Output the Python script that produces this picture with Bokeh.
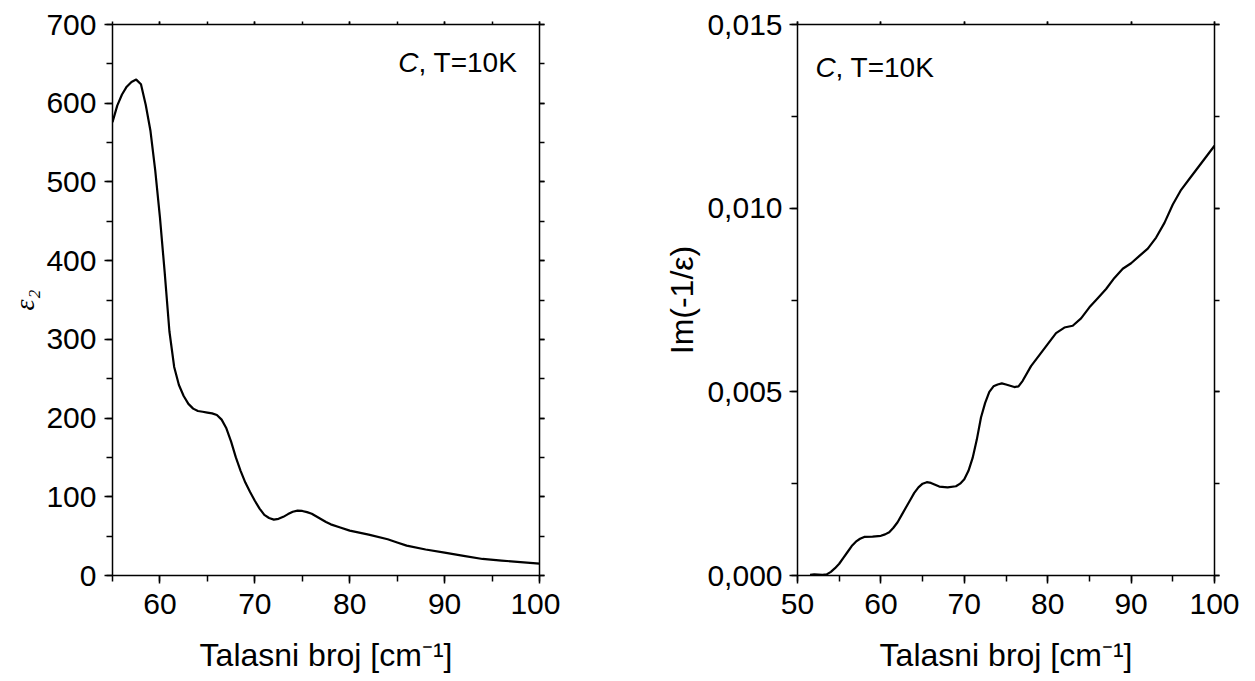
from bokeh.plotting import figure
from bokeh.layouts import row
from bokeh.models import (Range1d, LinearAxis, SingleIntervalTicker, Label,
                          CustomJSTickFormatter)
from bokeh.embed import file_html
from bokeh.resources import INLINE

# --- data: dielectric function, imaginary part (eps2) ---
eps_wavenumber = [55, 55.5, 56, 56.5, 57, 57.5, 58, 58.5, 59, 59.5, 60, 60.5,
                  61, 61.5, 62, 62.5, 63, 63.5, 64, 64.5, 65, 65.5, 66, 66.5,
                  67, 67.5, 68, 68.5, 69, 69.5, 70, 70.5, 71, 71.5, 72, 72.5,
                  73, 73.5, 74, 74.5, 75, 75.5, 76, 76.5, 77, 77.5, 78, 79,
                  80, 82, 84, 85, 86, 88, 90, 92, 94, 96, 98, 100]
eps2 = [576, 597, 611, 621, 627, 630, 624, 598, 565, 515, 455, 385,
        310, 265, 242, 228, 218, 212, 209, 208, 207, 206, 204, 198,
        187, 170, 150, 133, 118, 106, 95, 85, 77, 73, 71, 72,
        74.5, 78, 81, 82.5, 82, 80.5, 78.5, 75, 71.5, 68, 65, 61,
        57, 52, 46, 42, 38, 33, 29, 25, 21, 19, 17, 15]

# --- data: energy loss function Im(-1/eps) ---
loss_wavenumber = [51.5, 52, 53, 53.5, 54, 54.5, 55, 55.5, 56, 56.5, 57, 57.5,
                   58, 59, 60, 60.5, 61, 61.5, 62, 62.5, 63, 63.5, 64, 64.5,
                   65, 65.5, 66, 66.5, 67, 68, 69, 69.5, 70, 70.5, 71, 71.5,
                   72, 72.5, 73, 73.5, 74, 74.5, 75, 76, 76.5, 77, 78, 79, 80,
                   81, 82, 83, 84, 85, 86, 87, 88, 89, 90, 91, 92, 93, 94, 95,
                   96, 97, 98, 99, 100]
loss = [0.00002, 0.00003, 0.00002, 0.00003, 0.0001, 0.0002, 0.00032, 0.00048,
        0.00064, 0.0008, 0.00092, 0.001, 0.00105, 0.00106, 0.00108, 0.00112,
        0.00118, 0.0013, 0.00145, 0.00165, 0.00185, 0.00205, 0.00225,
        0.0024, 0.0025, 0.00254, 0.00252, 0.00247, 0.00242, 0.0024, 0.00243,
        0.0025, 0.00262, 0.00285, 0.0032, 0.0037, 0.0043, 0.0047, 0.0050,
        0.00515, 0.0052, 0.00523, 0.0052, 0.00513, 0.00515, 0.0053, 0.0057,
        0.0060, 0.0063, 0.0066, 0.00675, 0.0068, 0.0070, 0.0073, 0.00755,
        0.0078, 0.0081, 0.00835, 0.0085, 0.0087, 0.0089, 0.0092, 0.0096,
        0.0101, 0.0105, 0.0108, 0.0111, 0.0114, 0.0117]

x_label = "Talasni broj [cm\u207b\u00b9]"
annotation_main = ", T=10K"
annotation_italic = "C"

FONT = "Liberation Sans"
FS = "28px"
TICK_FS = "30px"
LABEL_FS = "32px"
H = 680


def style_axis(ax, interval, minor, major_out, minor_out, labels=True,
               standoff=5, fmt=None):
    ax.ticker = SingleIntervalTicker(interval=interval, num_minor_ticks=minor)
    ax.axis_line_color = "black"
    ax.axis_line_width = 1.5
    ax.major_tick_line_color = "black"
    ax.major_tick_line_width = 1.5
    ax.minor_tick_line_color = "black"
    ax.minor_tick_line_width = 1.5
    ax.major_tick_in = 0
    ax.major_tick_out = major_out
    ax.minor_tick_in = 0
    ax.minor_tick_out = minor_out
    if fmt is not None:
        ax.formatter = fmt
    if labels:
        ax.major_label_text_font = FONT
        ax.major_label_text_font_size = TICK_FS
        ax.major_label_text_color = "black"
        ax.major_label_standoff = standoff
    else:
        ax.major_label_text_font_size = "0px"
        ax.major_label_text_color = None


def set_label(ax, text, font, style, standoff, size=LABEL_FS):
    ax.axis_label = text
    ax.axis_label_text_font = font
    ax.axis_label_text_font_size = size
    ax.axis_label_text_font_style = style
    ax.axis_label_text_color = "black"
    ax.axis_label_standoff = standoff


def make_fig(width, border_left, border_right, xr, yr):
    p = figure(width=width, height=H, output_backend="svg",
               toolbar_location=None, x_range=xr, y_range=yr,
               min_border_left=border_left, min_border_right=border_right,
               min_border_top=24, min_border_bottom=H - 575)
    p.grid.visible = False
    p.outline_line_color = None
    p.background_fill_color = "white"
    p.border_fill_color = "white"
    return p


# ---------------- left panel: eps2 ----------------
p1 = make_fig(560, 112, 21, Range1d(55, 100), Range1d(0, 700))
p1.line(eps_wavenumber, eps2, line_color="black", line_width=2.2,
        line_join="round")

style_axis(p1.xaxis[0], 10, 2, 8, 6, standoff=10)
style_axis(p1.yaxis[0], 100, 2, 8, 6, standoff=8)
set_label(p1.xaxis[0], x_label, FONT, "normal", 20)
set_label(p1.yaxis[0], "\u03b5\u2082", "Liberation Serif", "italic", 3,
          size="28px")

top1 = LinearAxis()
style_axis(top1, 10, 2, 3, 3, labels=False)
p1.add_layout(top1, "above")
right1 = LinearAxis()
style_axis(right1, 100, 2, 5, 5, labels=False)
p1.add_layout(right1, "right")

p1.add_layout(Label(x=87.25, y=652, text=annotation_italic, text_align="right",
                    text_baseline="alphabetic", text_font=FONT,
                    text_font_size=FS, text_font_style="italic",
                    text_color="black"))
p1.add_layout(Label(x=87.25, y=652, text=annotation_main, text_align="left",
                    text_baseline="alphabetic", text_font=FONT,
                    text_font_size=FS, text_color="black"))

# ---------------- right panel: Im(-1/eps) ----------------
p2 = make_fig(695, 237, 41, Range1d(50, 100), Range1d(0, 0.015))
p2.line(loss_wavenumber, loss, line_color="black", line_width=2.2,
        line_join="round")

comma_fmt = CustomJSTickFormatter(code="return tick.toFixed(3).replace('.', ',');")
style_axis(p2.xaxis[0], 10, 2, 8, 6, standoff=10)
style_axis(p2.yaxis[0], 0.005, 2, 8, 6, standoff=7, fmt=comma_fmt)
set_label(p2.xaxis[0], x_label, FONT, "normal", 20)
set_label(p2.yaxis[0], "Im(-1/\u03b5)", FONT, "normal", 4)

top2 = LinearAxis()
style_axis(top2, 10, 1, 3, 3, labels=False)
p2.add_layout(top2, "above")
right2 = LinearAxis()
style_axis(right2, 0.005, 2, 5, 5, labels=False)
p2.add_layout(right2, "right")

p2.add_layout(Label(x=52.16, y=0.01383, text=annotation_italic, text_align="left",
                    text_baseline="alphabetic", text_font=FONT,
                    text_font_size=FS, text_font_style="italic",
                    text_color="black"))
p2.add_layout(Label(x=54.56, y=0.01383, text=annotation_main, text_align="left",
                    text_baseline="alphabetic", text_font=FONT,
                    text_font_size=FS, text_color="black"))

layout = row(p1, p2, spacing=0)
open("out.html", "w").write(file_html(layout, INLINE))
